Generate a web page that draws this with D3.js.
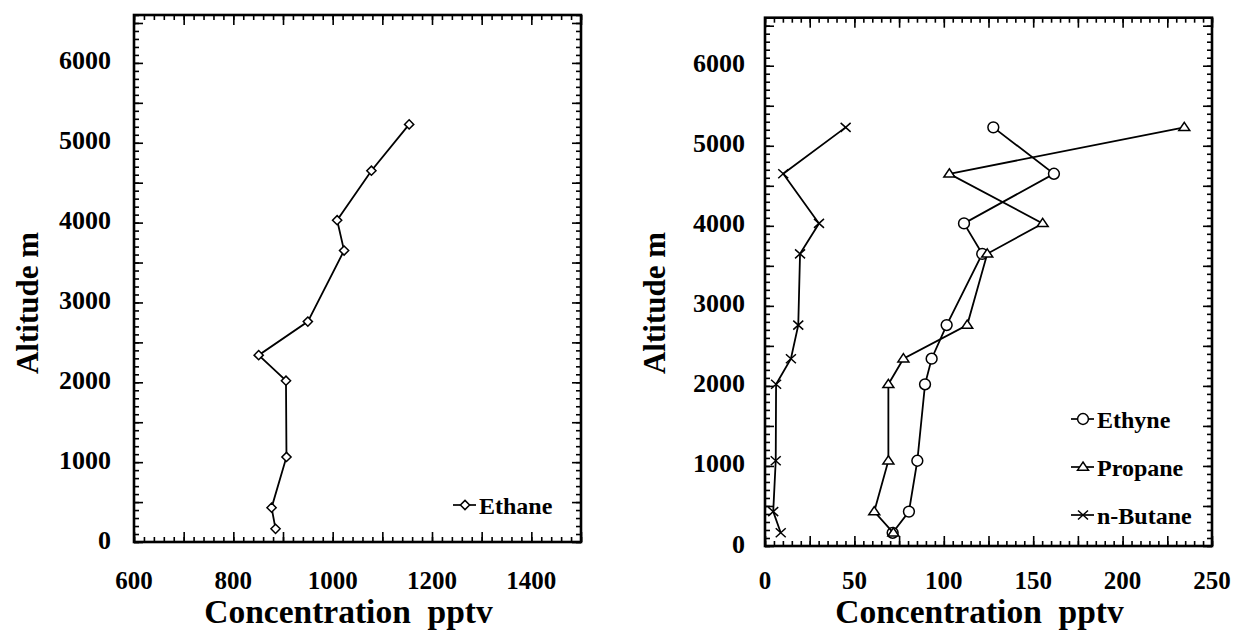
<!DOCTYPE html>
<html><head><meta charset="utf-8">
<script src="https://cdn.jsdelivr.net/npm/d3@7"></script>
<style>
html,body{margin:0;padding:0;background:#fff;}
svg{display:block;}
text{font-family:"Liberation Serif","Times New Roman",serif;font-weight:bold;fill:#000;}
</style></head>
<body>
<svg id="chart" width="1233" height="630"></svg>
<script>
// ---- data ----
const altitudes = [5230, 4650, 4030, 3650, 2760, 2340, 2020, 1065, 430, 165];
const ethane  = [1154, 1078, 1009, 1023, 950, 851, 906, 907, 877, 885];
const ethyne  = [127.7, 161.6, 111.3, 121.5, 101.6, 93.2, 89.5, 85.2, 80.5, 71.4];
const propane = [234.5, 103.1, 155.3, 124.3, 113.1, 77.4, 69.0, 69.0, 61.1, 71.8];
const butane  = [45.1, 10.2, 30.2, 19.6, 18.6, 14.5, 6.2, 6.0, 4.6, 8.8];
const yTickLabels = [0, 1000, 2000, 3000, 4000, 5000, 6000];
const leftXTickLabels = [600, 800, 1000, 1200, 1400];
const rightXTickLabels = [0, 50, 100, 150, 200, 250];
const leftSeriesNames = ["Ethane"];
const rightSeriesNames = ["Ethyne", "Propane", "n-Butane"];

const svg = d3.select("#chart");

const panels = [
  {x0:134, x1:581, y0:15, y1:542, xDomain:[600,1500], xMinor:20, xMajor:100,
   xLabels:leftXTickLabels, yLabelX:111, xLabelBase:588.5, titleBase:623, yTitleX:38,
   series:[{name:leftSeriesNames[0], vals:ethane, marker:"diamond"}],
   legend:{x:453, y:[505]}},
  {x0:765, x1:1212, y0:17.7, y1:546, xDomain:[0,250], xMinor:5, xMajor:25,
   xLabels:rightXTickLabels, yLabelX:745, xLabelBase:588.5, titleBase:623, yTitleX:665,
   series:[{name:rightSeriesNames[0], vals:ethyne, marker:"circle"},
           {name:rightSeriesNames[1], vals:propane, marker:"triangle"},
           {name:rightSeriesNames[2], vals:butane, marker:"x"}],
   legend:{x:1071, y:[419, 467, 515]}}
];

function markerPath(type){
  if(type==="diamond"){ const r=4.6; return `M0,${-r}L${r},0L0,${r}L${-r},0Z`; }
  if(type==="circle"){ return d3.symbol(d3.symbolCircle, 92)(); }
  if(type==="triangle"){ return "M0,-5L5.5,3.2L-5.5,3.2Z"; }
  if(type==="x"){ return "M-5,-4.5L5,4.5M-5,4.5L5,-4.5"; }
}

panels.forEach(p=>{
  const g = svg.append("g");
  const x = d3.scaleLinear().domain(p.xDomain).range([p.x0, p.x1]);
  const y = d3.scaleLinear().domain([0, 6600]).range([p.y1, p.y0]);

  // ticks (inward, all four sides)
  const xMin = d3.range(p.xDomain[0], p.xDomain[1]+1e-9, p.xMinor);
  const xMaj = d3.range(p.xDomain[0], p.xDomain[1]+1e-9, p.xMajor);
  const yMin = d3.range(0, 6601, 100);
  const yMaj = d3.range(0, 6601, 500);
  const mk = (axis, vals, len, tr) => {
    const a = g.append("g").attr("transform", tr)
      .call(axis.tickValues(vals).tickSizeInner(-len).tickSizeOuter(0).tickFormat(""));
    a.select(".domain").remove();
    a.selectAll(".tick line").attr("stroke","#000").attr("stroke-width",1.6);
  };
  mk(d3.axisBottom(x), xMin, 5, `translate(0,${p.y1})`);
  mk(d3.axisBottom(x), xMaj, 10, `translate(0,${p.y1})`);
  mk(d3.axisTop(x), xMin, 5, `translate(0,${p.y0})`);
  mk(d3.axisTop(x), xMaj, 10, `translate(0,${p.y0})`);
  mk(d3.axisLeft(y), yMin, 5, `translate(${p.x0},0)`);
  mk(d3.axisLeft(y), yMaj, 9, `translate(${p.x0},0)`);
  mk(d3.axisRight(y), yMin, 5, `translate(${p.x1},0)`);
  mk(d3.axisRight(y), yMaj, 9, `translate(${p.x1},0)`);

  // frame
  g.append("rect").attr("x",p.x0).attr("y",p.y0).attr("width",p.x1-p.x0).attr("height",p.y1-p.y0)
    .attr("fill","none").attr("stroke","#000").attr("stroke-width",2.6);

  // tick labels
  g.selectAll(".yl").data(yTickLabels).enter().append("text")
    .attr("x", p.yLabelX).attr("y", d=>y(d)-2+8.5).attr("text-anchor","end")
    .attr("font-size",26).text(d=>d);
  g.selectAll(".xl").data(p.xLabels).enter().append("text")
    .attr("x", d=>x(d)).attr("y", p.xLabelBase).attr("text-anchor","middle")
    .attr("font-size",25).text(d=>d);

  // axis titles
  g.append("text").attr("x",(p.x0+p.x1)/2-9).attr("y",p.titleBase).attr("text-anchor","middle")
    .attr("font-size",33.5).attr("xml:space","preserve").style("white-space","pre")
    .text("Concentration  pptv");
  g.append("text").attr("transform",`translate(${p.yTitleX},303) rotate(-90)`)
    .attr("text-anchor","middle").attr("font-size",31).text("Altitude m");

  // series
  const line = d3.line().x(d=>x(d[0])).y(d=>y(d[1]));
  p.series.forEach((s,si)=>{
    const pts = s.vals.map((v,i)=>[v, altitudes[i]]);
    g.append("path").datum(pts).attr("d",line).attr("fill","none")
      .attr("stroke","#000").attr("stroke-width",1.8);
    g.selectAll(null).data(pts).enter().append("path")
      .attr("transform",d=>`translate(${x(d[0])},${y(d[1])})`)
      .attr("d", markerPath(s.marker))
      .attr("fill", s.marker==="x" ? "none" : "#fff")
      .attr("stroke","#000").attr("stroke-width",1.5);

    // legend
    const ly = p.legend.y[si], lx = p.legend.x;
    g.append("line").attr("x1",lx).attr("x2",lx+23).attr("y1",ly).attr("y2",ly)
      .attr("stroke","#000").attr("stroke-width",1.7);
    g.append("path").attr("transform",`translate(${lx+12},${ly})`).attr("d",markerPath(s.marker))
      .attr("fill", s.marker==="x" ? "none" : "#fff").attr("stroke","#000").attr("stroke-width",1.5);
    g.append("text").attr("x",lx+26).attr("y",ly+8.5).attr("font-size",24).text(s.name);
  });
});
</script>
</body></html>
